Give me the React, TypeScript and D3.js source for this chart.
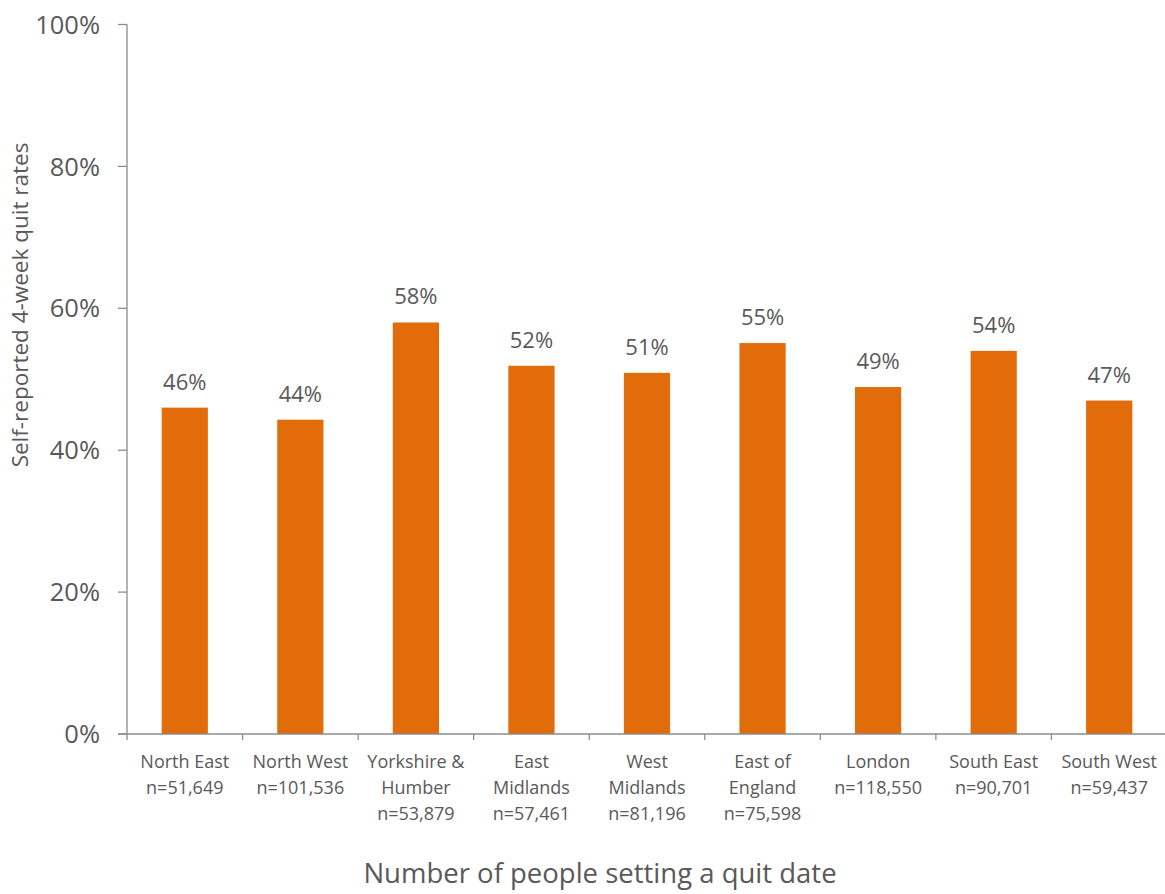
import React from "react";
import * as d3 from "d3";

const regions = ["North East", "North West", "Yorkshire & Humber", "East Midlands", "West Midlands", "East of England", "London", "South East", "South West"];
const regionLines = [
  ["North East", "n=51,649"],
  ["North West", "n=101,536"],
  ["Yorkshire &", "Humber", "n=53,879"],
  ["East", "Midlands", "n=57,461"],
  ["West", "Midlands", "n=81,196"],
  ["East of", "England", "n=75,598"],
  ["London", "n=118,550"],
  ["South East", "n=90,701"],
  ["South West", "n=59,437"],
];
const quitRates = [0.46, 0.443, 0.58, 0.519, 0.509, 0.551, 0.489, 0.54, 0.47];
const valueLabels = ["46%", "44%", "58%", "52%", "51%", "55%", "49%", "54%", "47%"];
const yTicks = [0, 0.2, 0.4, 0.6, 0.8, 1.0];

const W = 1165;
const H = 894;
const left = 127;
const right = 1167;
const top = 24.5;
const bottom = 734;
const FONT = "'Open Sans', 'Noto Sans', sans-serif";
const TEXT = "#595959";
const AXIS = "#8c8c8c";
const BAR = "#E36C0A";

export default function App() {
  const x = d3.scaleBand<string>().domain(regions).range([left, right]).paddingInner(0.6).paddingOuter(0.3);
  const band = d3.scaleBand<string>().domain(regions).range([left, right]).padding(0);
  const y = d3.scaleLinear().domain([0, 1]).range([bottom, top]);
  const fmt = d3.format(".0%");

  return (
    <svg width={W} height={H} style={{ position: "absolute", left: 0, top: 0, background: "#fff" }} fontFamily={FONT}>
      {/* bars */}
      {regions.map((r, i) => (
        <rect key={r} x={x(r)} y={y(quitRates[i])} width={x.bandwidth()} height={bottom - y(quitRates[i])} fill={BAR} />
      ))}
      {/* value labels */}
      {regions.map((r, i) => (
        <text key={r + "v"} x={(x(r) as number) + x.bandwidth() / 2} y={y(quitRates[i]) - 18} textAnchor="middle" fontSize={22} fill={TEXT}>
          {valueLabels[i]}
        </text>
      ))}
      {/* y axis */}
      <line x1={left} x2={left} y1={top} y2={bottom} stroke={AXIS} strokeWidth={1.3} />
      {yTicks.map((t) => (
        <g key={t}>
          <line x1={left - 9} x2={left} y1={y(t)} y2={y(t)} stroke={AXIS} strokeWidth={1.3} />
          <text x={left - 27} y={y(t)} dy="0.36em" textAnchor="end" fontSize={25.5} fill={TEXT}>
            {fmt(t)}
          </text>
        </g>
      ))}
      {/* x axis */}
      <line x1={left - 9} x2={right} y1={bottom} y2={bottom} stroke={AXIS} strokeWidth={1.3} />
      {regions.map((r) => (
        <line key={r + "t"} x1={band(r)} x2={band(r)} y1={bottom} y2={bottom + 6} stroke={AXIS} strokeWidth={1.3} />
      ))}
      {regions.map((r, i) => (
        <text key={r + "l"} x={(band(r) as number) + band.bandwidth() / 2} y={768} textAnchor="middle" fontSize={18} fill={TEXT}>
          {regionLines[i].map((ln, j) => (
            <tspan key={j} x={(band(r) as number) + band.bandwidth() / 2} dy={j === 0 ? 0 : 26}>
              {ln}
            </tspan>
          ))}
        </text>
      ))}
      {/* axis titles */}
      <text x={600} y={883} textAnchor="middle" fontSize={27.5} fill={TEXT}>
        Number of people setting a quit date
      </text>
      <text transform={`translate(28, 305) rotate(-90)`} textAnchor="middle" fontSize={22.5} fill={TEXT}>
        Self-reported 4-week quit rates
      </text>
    </svg>
  );
}
